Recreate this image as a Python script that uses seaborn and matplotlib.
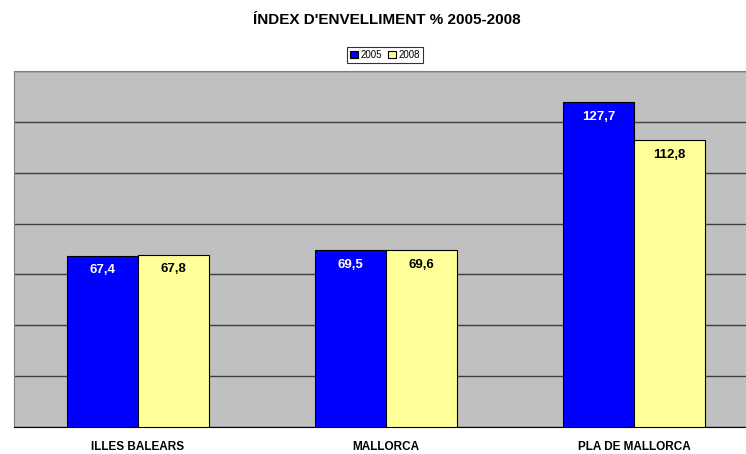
import pandas as pd
import seaborn as sns
from matplotlib import pyplot as plt

categories = ["ILLES BALEARS", "MALLORCA", "PLA DE MALLORCA"]
years = ["2005", "2008"]
values_2005 = [67.4, 69.5, 127.7]
values_2008 = [67.8, 69.6, 112.8]

df = pd.DataFrame({
    "Zona": categories * 2,
    "Any": [years[0]] * 3 + [years[1]] * 3,
    "Index": values_2005 + values_2008,
})

sns.set_style("white")
plt.rcParams['font.family'] = ['Liberation Sans', 'DejaVu Sans']
plt.rcParams['text.color'] = 'black'
plt.rcParams['xtick.color'] = 'black'

fig = plt.figure(figsize=(7.46, 4.54), dpi=100)
ax = fig.add_axes([14 / 746, 1 - 427 / 454, 744 / 746, 356 / 454])
ax.set_facecolor("#C0C0C0")

sns.barplot(data=df, x="Zona", y="Index", hue="Any", order=categories,
            hue_order=years, palette=["#0000FF", "#FFFF99"], width=0.573,
            edgecolor="black", linewidth=0.8, saturation=1, ax=ax, zorder=3)

ax.set_ylim(0, 140)
ax.set_yticks(range(0, 141, 20))
ax.set_yticklabels([])
ax.tick_params(axis="y", length=0)
ax.yaxis.grid(True, color="#404040", linewidth=1)
ax.set_axisbelow(True)
ax.set_xlim(-0.5, 2.5)
ax.set_xlabel("")
ax.set_ylabel("")
ax.tick_params(axis="x", length=0, pad=10, labelcolor="black")
for lbl in ax.get_xticklabels():
    lbl.set_fontweight("bold")
    lbl.set_fontsize(8.5)

for side in ["left", "top", "right"]:
    ax.spines[side].set_color("#808080")
ax.spines["bottom"].set_color("black")

text_colors = ["white", "black"]
for cont, col in zip(ax.containers, text_colors):
    labels = [f"{b.get_height():.1f}".replace(".", ",") for b in cont]
    ax.bar_label(cont, labels=labels, padding=-15, color=col,
                 fontweight="bold", fontsize=9.5)

leg = ax.legend(loc="center", bbox_to_anchor=(386 / 746 - 14 / 746, 1 + 16 / 356),
                bbox_transform=ax.transAxes, ncol=2, fontsize=7,
                frameon=True, fancybox=False, edgecolor="black",
                handlelength=0.8, handleheight=0.8, handletextpad=0.3,
                columnspacing=0.6, borderpad=0.3, borderaxespad=0)
leg.get_frame().set_linewidth(0.8)
for t in leg.get_texts():
    t.set_color("black")

fig.text(387 / 746, 1 - 20 / 454, "ÍNDEX D'ENVELLIMENT % 2005-2008",
         ha="center", va="center", fontsize=11, fontweight="bold", color="black")

plt.savefig("out.png", dpi=100)
plt.close()
